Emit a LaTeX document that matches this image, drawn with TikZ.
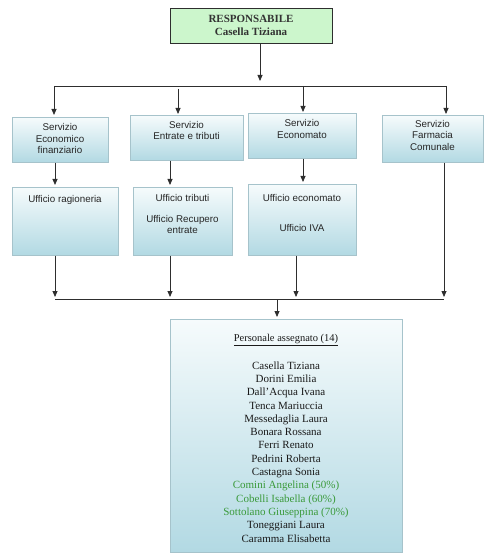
\documentclass[tikz,border=0pt]{standalone}
\usepackage{fontspec}
\setmainfont{Liberation Serif}
\setsansfont{Liberation Sans}
\usetikzlibrary{arrows.meta}

\definecolor{boxtop}{HTML}{F6FBFC}
\definecolor{boxbot}{HTML}{B2D9E3}
\definecolor{boxline}{HTML}{A6C3CB}
\definecolor{headfill}{HTML}{CCF6CC}
\definecolor{inkline}{HTML}{2E2E2E}
\definecolor{staffgreen}{HTML}{3A9A3A}

\begin{document}
\begin{tikzpicture}[x=1pt,y=-1pt,
  box/.style={draw=boxline, line width=0.6pt, top color=boxtop, bottom color=boxbot,
    inner sep=0pt, anchor=north west},
  headbox/.style={draw=inkline, line width=0.9pt, fill=headfill, inner sep=0pt, anchor=north west},
  svctext/.style={align=center, font=\sffamily\fontsize{9.8}{11.5}\selectfont, text=black!85},
  headtext/.style={align=center, font=\bfseries\fontsize{11}{13}\selectfont, text=black!80},
  stafftext/.style={align=center, anchor=north, font=\fontsize{11}{13.3}\selectfont, text=black!90},
  link/.style={draw=inkline, line width=0.8pt},
  arrow/.style={link, -{Triangle[width=5pt,length=6pt]}}
]
\useasboundingbox (0,0) rectangle (485,553);

% head of the area
\node[headbox, minimum width=162pt, minimum height=35pt] (head) at (170,8) {};
\node[headtext] (headt) at (251,25.5) {RESPONSABILE\\Casella Tiziana};

% services
\node[box, minimum width=96pt,  minimum height=45pt] (s1) at (12,117) {};
\node[box, minimum width=113pt, minimum height=45pt] (s2) at (130,115) {};
\node[box, minimum width=108pt, minimum height=45pt] (s3) at (248,113) {};
\node[box, minimum width=101pt, minimum height=47pt] (s4) at (382,115) {};
\node[svctext] (s1t) at (60,138.5) {Servizio\\Economico\\finanziario};
\node[svctext] (s2t) at (186.5,130.5) {Servizio\\Entrate e tributi};
\node[svctext] (s3t) at (302,129) {Servizio\\Economato};
\node[svctext] (s4t) at (432.5,135) {Servizio\\Farmacia\\Comunale};

% offices
\node[box, minimum width=106pt, minimum height=68pt] (u1) at (12,187) {};
\node[box, minimum width=99pt,  minimum height=68pt] (u2) at (133,187) {};
\node[box, minimum width=108pt, minimum height=71pt] (u3) at (248,184) {};
\node[svctext] (u1t) at (65,200) {Ufficio ragioneria};
\node[svctext] (u2a) at (182.5,197.5) {Ufficio tributi};
\node[svctext] (u2b) at (182.5,224.5) {Ufficio Recupero\\entrate};
\node[svctext] (u3a) at (302,198) {Ufficio economato};
\node[svctext] (u3b) at (302,228) {Ufficio IVA};

% staff
\node[box, minimum width=232pt, minimum height=233pt] (staff) at (170,319) {};
\node[stafftext] (stafft) at (286,331) {{\fontsize{10.5}{13}\selectfont\underline{Personale assegnato (14)}}\\[14pt]
  Casella Tiziana\\
  Dorini Emilia\\
  Dall'Acqua Ivana\\
  Tenca Mariuccia\\
  Messedaglia Laura\\
  Bonara Rossana\\
  Ferri Renato\\
  Pedrini Roberta\\
  Castagna Sonia\\
  {\color{staffgreen}Comini Angelina (50\%)}\\
  {\color{staffgreen}Cobelli Isabella (60\%)}\\
  {\color{staffgreen}Sottolano Giuseppina (70\%)}\\
  Toneggiani Laura\\
  Caramma Elisabetta};

% distribution lines
\coordinate (busTL) at (54,86);
\coordinate (busTR) at (446,86);
\coordinate (xT) at (260,0);
\coordinate (x2) at (178,0);
\coordinate (x3) at (303,0);
\coordinate (busBL) at (55,299);
\coordinate (busBR) at (444,299);
\coordinate (xd2) at (170,0);
\coordinate (xd3) at (296,0);
\coordinate (xS) at (277,0);

\draw[arrow, shorten >=5pt] (head.south -| xT) -- (xT |- busTL);
\draw[link] (busTL) -- (busTR);
\draw[arrow, shorten >=2pt] (busTL) -- (busTL |- s1.north);
\draw[arrow, shorten <=3pt, shorten >=1pt] (x2 |- busTL) -- (x2 |- s2.north);
\draw[arrow, shorten >=1pt] (x3 |- busTL) -- (x3 |- s3.north);
\draw[arrow, shorten >=1pt] (busTR) -- (busTR |- s4.north);

\draw[arrow, shorten >=2pt] (s1.south -| busBL) -- (busBL |- u1.north);
\draw[arrow, shorten >=2pt] (s2.south -| xd2) -- (xd2 |- u2.north);
\draw[arrow, shorten >=2pt] (s3.south -| x3) -- (x3 |- u3.north);

\draw[arrow, shorten >=2pt] (u1.south -| busBL) -- (busBL);
\draw[arrow, shorten >=2pt] (u2.south -| xd2) -- (xd2 |- busBL);
\draw[arrow, shorten >=2pt] (u3.south -| xd3) -- (xd3 |- busBL);
\draw[arrow, shorten >=2pt] (s4.south -| busBR) -- (busBR);
\draw[link] (busBL) -- (busBR);
\draw[arrow, shorten >=2pt] (xS |- busBL) -- (xS |- staff.north);
\end{tikzpicture}
\end{document}
